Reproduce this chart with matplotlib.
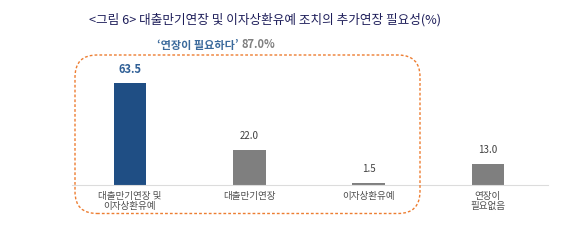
import matplotlib
matplotlib.use("Agg")
import matplotlib.pyplot as plt
from matplotlib.patches import FancyBboxPatch

plt.rcParams['font.family'] = ['Noto Sans CJK KR', 'DejaVu Sans']

categories = ["대출만기연장 및\n이자상환유예", "대출만기연장", "이자상환유예", "연장이\n필요없음"]
values = [63.5, 22.0, 1.5, 13.0]
value_labels = ["63.5", "22.0", "1.5", "13.0"]
title = "<그림 6> 대출만기연장 및 이자상환유예 조치의 추가연장 필요성(%)"
need_label = "‘연장이 필요하다’"
need_total = "87.0%"

bar_colors = ["#1f4e84", "#7f7f7f", "#7f7f7f", "#7f7f7f"]
label_colors = ["#2f5f96", "#404040", "#404040", "#404040"]

fig = plt.figure(figsize=(5.84, 2.44), dpi=100)
ax = fig.add_axes([72 / 584, 59 / 244, 476 / 584, 128 / 244])

x = list(range(len(values)))
ax.bar(x, values, width=0.275, color=bar_colors, zorder=2)
ax.set_xlim(-0.486, 3.503)
ax.set_ylim(0, 79.5)

for xi, v, lab, c in zip(x, values, value_labels, label_colors):
    bold = xi == 0
    ax.text(xi, v + 8.5, lab, ha="center", va="center", color=c,
            fontsize=8 if bold else 7, fontweight="bold" if bold else "normal")

for xi, cat in zip(x, categories):
    ax.text(xi, -4.6, cat, ha="center", va="top", color="#505050",
            fontsize=6.9, linespacing=1.1)

for side in ["top", "right", "left"]:
    ax.spines[side].set_visible(False)
ax.spines["bottom"].set_color("#dcdcdc")
ax.spines["bottom"].set_linewidth(0.8)
ax.set_xticks([])
ax.set_yticks([])
ax.patch.set_alpha(0)

# dashed rounded frame around the "needs extension" group
frame = FancyBboxPatch((0.75, 0.305), 3.45, 1.585,
                       boxstyle="round,pad=0,rounding_size=0.22",
                       transform=fig.dpi_scale_trans, fill=False,
                       edgecolor="#ed7d31", linestyle=(0, (2, 1.5)),
                       linewidth=1.0, zorder=5)
fig.add_artist(frame)

fig.text(265 / 584, 1 - 20 / 244, title, ha="center", va="center",
         color="#1e1e5a", fontsize=9.1)
fig.text(239 / 584, 1 - 45 / 244, need_label, ha="right", va="center",
         color="#3b6a9c", fontsize=8.0, fontweight="bold")
fig.text(241 / 584, 1 - 45 / 244, need_total, ha="left", va="center",
         color="#7f7f7f", fontsize=8.0, fontweight="bold")

fig.savefig("out.png", dpi=100, facecolor="white")
